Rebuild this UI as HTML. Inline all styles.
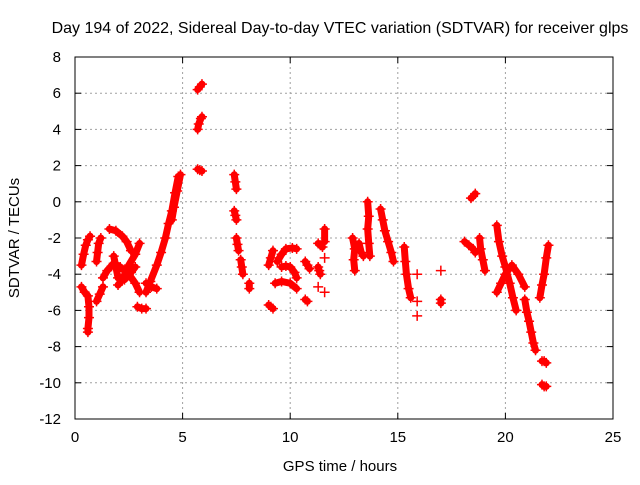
<!DOCTYPE html>
<html><head><meta charset="utf-8"><style>
body{margin:0;background:#fff;}
svg text{font-family:"Liberation Sans",sans-serif;font-size:15px;fill:#000;}
</style></head><body>
<svg id="chart" width="640" height="480" xmlns="http://www.w3.org/2000/svg">
<rect width="640" height="480" fill="#fff"/>
<text x="340" y="33" text-anchor="middle" style="font-size:16px">Day 194 of 2022, Sidereal Day-to-day VTEC variation (SDTVAR) for receiver glps</text>
<text x="340" y="471" text-anchor="middle">GPS time / hours</text>
<text transform="translate(19,238) rotate(-90)" text-anchor="middle">SDTVAR / TECUs</text>
<g id="grid"></g>
<g id="axes"></g>
<g id="marks"></g>
<rect x="75" y="57" width="538" height="362" fill="none" stroke="#000" stroke-width="1"/>
</svg>
<script>
const xTicks=[0,5,10,15,20,25];
const yTicks=[-12,-10,-8,-6,-4,-2,0,2,4,6,8];
const tracks=[
[[0.3,-3.5],[0.4,-2.9],[0.5,-2.4],[0.6,-2.1],[0.7,-1.9]],
[[0.3,-4.7],[0.45,-5.0],[0.6,-5.2],[0.65,-5.8],[0.65,-6.4],[0.6,-7.0],[0.6,-7.2]],
[[1.0,-3.3],[1.05,-2.8],[1.1,-2.3],[1.2,-2.0]],
[[1.0,-5.5],[1.15,-5.1],[1.3,-4.7]],
[[1.6,-1.5],[1.9,-1.6],[2.2,-1.9],[2.4,-2.2],[2.6,-2.7]],
[[1.3,-4.2],[1.5,-3.8],[1.8,-3.4],[2.1,-3.6],[2.5,-4.0],[2.8,-4.5],[3.0,-5.0]],
[[1.8,-3.0],[1.9,-3.6],[2.0,-4.2],[2.3,-4.3],[2.6,-3.9],[2.8,-3.6]],
[[3.0,-2.3],[2.8,-2.9],[2.5,-3.5],[2.2,-4.3],[2.0,-4.6]],
[[2.9,-5.8],[3.1,-5.9],[3.3,-5.9]],
[[3.3,-5.0],[3.5,-4.4],[3.8,-3.5],[4.0,-2.8],[4.2,-2.0],[4.35,-1.2],[4.5,-0.5],[4.65,0.5],[4.8,1.4]],
[[3.3,-4.5],[3.55,-4.7],[3.8,-4.8]],
[[4.5,-1.0],[4.6,-0.3],[4.75,0.6],[4.9,1.5]],
[[5.7,6.2],[5.8,6.35],[5.9,6.5]],
[[5.7,4.0],[5.75,4.3],[5.85,4.6],[5.9,4.7]],
[[5.7,1.8],[5.8,1.75],[5.9,1.7]],
[[7.4,1.5],[7.45,1.1],[7.5,0.7]],
[[7.4,-0.5],[7.45,-0.75],[7.5,-1.0]],
[[7.5,-2.0],[7.55,-2.35],[7.6,-2.7]],
[[7.7,-3.2],[7.75,-3.6],[7.8,-4.0]],
[[8.1,-4.5],[8.1,-4.8]],
[[9.0,-3.5],[9.1,-3.1],[9.2,-2.7]],
[[9.0,-5.7],[9.1,-5.8],[9.2,-5.9]],
[[9.3,-4.5],[9.6,-4.4],[10.0,-4.5],[10.3,-4.8]],
[[9.4,-3.3],[9.6,-2.9],[9.8,-2.6],[10.1,-2.55],[10.3,-2.6]],
[[9.6,-3.6],[9.8,-3.55],[10.0,-3.6],[10.2,-3.9],[10.3,-4.2]],
[[10.7,-3.3],[10.8,-3.5],[10.9,-3.7]],
[[10.7,-5.4],[10.8,-5.5]],
[[11.3,-2.3],[11.4,-2.4],[11.5,-2.5]],
[[11.3,-3.6],[11.35,-3.8],[11.4,-4.0]],
[[11.3,-4.7]],
[[11.6,-1.5],[11.6,-2.2]],
[[11.6,-3.1]],
[[11.6,-5.0]],
[[12.9,-2.0],[13.0,-2.6],[12.95,-3.2],[13.0,-3.8]],
[[13.2,-2.3],[13.3,-2.8],[13.4,-3.0]],
[[13.6,0.0],[13.65,-0.8],[13.6,-1.5],[13.65,-2.3],[13.7,-3.0]],
[[14.2,-0.4],[14.3,-1.0],[14.4,-1.6],[14.55,-2.2],[14.7,-2.8],[14.8,-3.3]],
[[15.3,-2.5],[15.35,-3.3],[15.4,-4.0],[15.5,-4.8],[15.6,-5.3]],
[[15.9,-4.0]],
[[15.9,-5.5]],
[[15.9,-6.3]],
[[17.0,-3.8]],
[[17.0,-5.4],[17.0,-5.6]],
[[18.4,0.2],[18.5,0.3],[18.6,0.45]],
[[18.1,-2.2],[18.3,-2.4],[18.5,-2.6],[18.6,-2.8]],
[[18.8,-2.0],[18.85,-2.6],[18.95,-3.2],[19.05,-3.8]],
[[19.6,-1.3],[19.7,-2.2],[19.85,-3.0],[20.0,-3.6],[20.2,-4.5],[20.35,-5.3],[20.5,-6.0]],
[[19.6,-5.0],[19.8,-4.5],[20.0,-4.0],[20.3,-3.5],[20.6,-4.0],[20.9,-4.7]],
[[20.9,-5.4],[21.0,-6.1],[21.1,-6.6],[21.2,-7.2],[21.3,-7.8],[21.4,-8.2]],
[[21.7,-8.8],[21.8,-8.8],[21.9,-8.9]],
[[21.7,-10.1],[21.8,-10.2],[21.9,-10.2]],
[[21.6,-5.3],[21.7,-4.6],[21.8,-4.0],[21.9,-3.1],[22.0,-2.4]]
];
const X=v=>75+v*21.52, Y=v=>57+(8-v)*18.1;
const NS="http://www.w3.org/2000/svg";
const grid=document.getElementById('grid'),axes=document.getElementById('axes'),marks=document.getElementById('marks');
function mk(tag,attrs,parent){const e=document.createElementNS(NS,tag);for(const k in attrs)e.setAttribute(k,attrs[k]);parent.appendChild(e);return e;}
xTicks.forEach(t=>{
 if(t>0&&t<25){const g=mk('line',{x1:X(t),x2:X(t),y1:57,y2:419,stroke:'#a0a0a0','stroke-dasharray':'2,3'},grid);
 
 }
 mk('line',{x1:X(t),x2:X(t),y1:419,y2:413,stroke:'#000'},axes);
 mk('line',{x1:X(t),x2:X(t),y1:57,y2:63,stroke:'#000'},axes);
 const l=mk('text',{x:X(t),y:442,'text-anchor':'middle'},axes);l.textContent=t;
 
 
});
yTicks.forEach(t=>{
 if(t>-12&&t<8){const g=mk('line',{x1:75,x2:613,y1:Y(t),y2:Y(t),stroke:'#a0a0a0','stroke-dasharray':'2,3'},grid);
 
 }
 mk('line',{x1:75,x2:81,y1:Y(t),y2:Y(t),stroke:'#000'},axes);
 mk('line',{x1:613,x2:607,y1:Y(t),y2:Y(t),stroke:'#000'},axes);
 const l=mk('text',{x:61,y:Y(t)+5,'text-anchor':'end'},axes);l.textContent=t;
 
 
});
tracks.forEach(tr=>{
 const pl=mk('polyline',{points:tr.map(p=>X(p[0])+','+Y(p[1])).join(' '),fill:'none',stroke:'#f00','stroke-width':7,'stroke-linecap':'round','stroke-linejoin':'round'},marks);
 
 
 tr.forEach(p=>{
  const cx=X(p[0]),cy=Y(p[1]);
  const m=mk('path',{d:`M${cx-5},${cy}H${cx+5}M${cx},${cy-5}V${cy+5}`,stroke:'#f00','stroke-width':1.5},marks);
  
  
 });
});
</script>
</body></html>
